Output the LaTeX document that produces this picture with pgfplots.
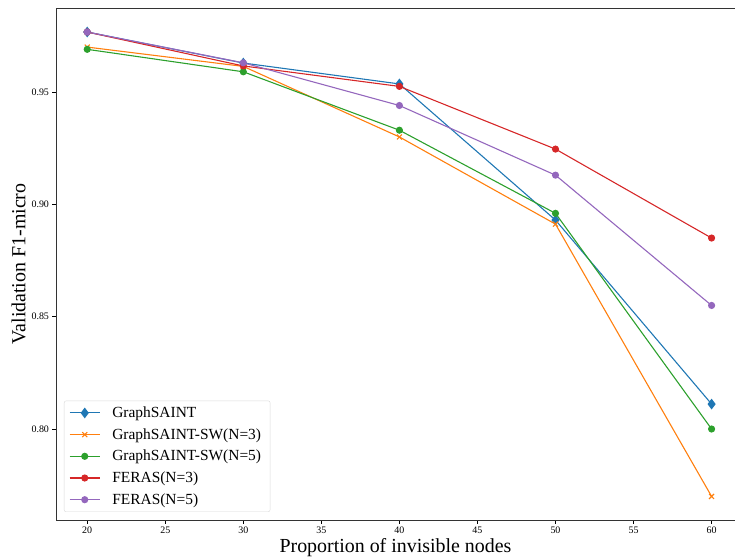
\documentclass[border=0pt]{standalone}
\usepackage{fontspec}
\setmainfont{Liberation Serif}
\usepackage{pgfplots}
\pgfplotsset{compat=1.18}
\usetikzlibrary{calc}
\definecolor{c1}{HTML}{1F77B4}
\definecolor{c2}{HTML}{FF7F0E}
\definecolor{c3}{HTML}{2CA02C}
\definecolor{c4}{HTML}{D62728}
\definecolor{c5}{HTML}{9467BD}
\begin{document}
\begin{tikzpicture}
\begin{axis}[
  scale only axis, width=679bp, height=512bp,
  xmin=18, xmax=61.5, ymin=0.7595, ymax=0.9874,
  xtick={20,25,...,60},
  ytick={0.80,0.85,0.90,0.95},
  tick align=outside, tick pos=left,
  major tick length=3.5bp,
  every tick/.style={black, line width=0.6pt},
  axis line style={line width=0.6pt, black!80},
  yticklabel style={/pgf/number format/fixed,/pgf/number format/fixed zerofill,/pgf/number format/precision=2},
  /pgf/number format/assume math mode=true,
  scaled y ticks=false,
  tick label style={font=\fontsize{10}{12}\selectfont},
  xlabel={Proportion of invisible nodes},
  ylabel={Validation F1-micro},
  label style={font=\fontsize{20}{24}\selectfont},
  xlabel style={yshift=2bp},
  ylabel style={yshift=-1bp},
  legend style={at={(8bp,8bp)}, anchor=south west, draw=black!15, rounded corners=2bp,
    font=\fontsize{15.5}{18}\selectfont, row sep=5.5bp, inner xsep=5bp, inner ysep=4bp,
    nodes={inner xsep=4bp}},
  legend cell align=left,
  legend image code/.code={\draw[mark repeat=2,mark phase=2] plot coordinates {(0bp,0bp) (15bp,0bp) (30bp,0bp)};\path (38bp,0bp);},
  every axis plot/.append style={line width=1.1pt},
]
\addplot[c1, mark=diamond*, mark size=4.5bp] coordinates {(20,0.9767) (30,0.9629) (40,0.9536) (50,0.8930) (60,0.8111)};
\addlegendentry{GraphSAINT}
\addplot[c2, mark=x, mark size=3.5bp] coordinates {(20,0.9700) (30,0.9614) (40,0.9300) (50,0.8912) (60,0.7700)};
\addlegendentry{GraphSAINT-SW(N=3)}
\addplot[c3, mark=*, mark size=3bp] coordinates {(20,0.9690) (30,0.9590) (40,0.9330) (50,0.8960) (60,0.8000)};
\addlegendentry{GraphSAINT-SW(N=5)}
\addplot[c4, mark=*, mark size=3bp] coordinates {(20,0.9767) (30,0.9616) (40,0.9525) (50,0.9246) (60,0.8850)};
\addlegendentry{FERAS(N=3)}
\addplot[c5, mark=*, mark size=3bp] coordinates {(20,0.9767) (30,0.9630) (40,0.9440) (50,0.9130) (60,0.8550)};
\addlegendentry{FERAS(N=5)}
\end{axis}
\pgfresetboundingbox
\path ($(current axis.south west)+(-56bp,-38bp)$) rectangle ($(current axis.north east)+(0bp,8bp)$);
\end{tikzpicture}
\end{document}
